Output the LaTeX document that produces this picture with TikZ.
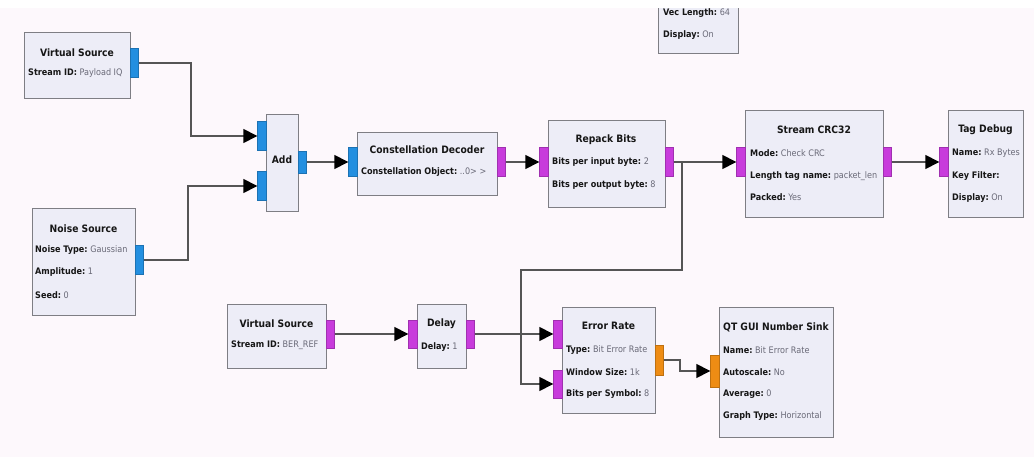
\documentclass[tikz,border=0pt]{standalone}
\usepackage{fontspec}
\setmainfont{DejaVu Sans Condensed}
\usetikzlibrary{arrows.meta}
\definecolor{bg}{HTML}{FDF8FC}
\definecolor{boxf}{HTML}{EDEDF7}
\definecolor{bord}{HTML}{7E7E84}
\definecolor{pblue}{HTML}{238FE0}
\definecolor{pmag}{HTML}{C83CDC}
\definecolor{porg}{HTML}{EE8C14}
\definecolor{linec}{HTML}{555555}
\definecolor{labc}{HTML}{161616}
\definecolor{valc}{HTML}{6A6A78}
\newcommand{\pv}[2]{\textbf{#1}\ \textcolor{valc}{#2}}
\begin{document}
\begin{tikzpicture}[x=1pt,y=-1pt,
  blk/.style={draw=bord, fill=boxf, line width=1.2pt, inner sep=0pt, anchor=north west},
  port/.style={inner sep=0pt, minimum width=8.5, minimum height=29, draw=#1!80!black, line width=0.4pt, fill=#1},
  ttl/.style={font=\fontsize{10.2}{12}\selectfont\bfseries, text=labc, inner sep=0pt},
  prm/.style={font=\fontsize{9}{11}\selectfont, text=labc, inner sep=0pt, anchor=west},
  conn/.style={draw=linec, line width=1.5pt, -{Triangle[length=14pt,width=14pt,color=black]}},
  wire/.style={draw=linec, line width=1.5pt}]
\useasboundingbox (0,0) rectangle (1034,457);
\fill[bg] (0,0) rectangle (1034,457);

% ---------- blocks ----------
\node[blk, minimum width=106, minimum height=66] (vs1) at (24,32) {};
\node[blk, minimum width=32, minimum height=97] (add) at (266,114) {};
\node[blk, minimum width=103, minimum height=107] (ns) at (32,208) {};
\node[blk, minimum width=140, minimum height=63] (cd) at (357,132) {};
\node[blk, minimum width=117, minimum height=87] (rb) at (548,120) {};
\node[blk, minimum width=138, minimum height=107] (crc) at (745,110) {};
\node[blk, minimum width=75, minimum height=107] (td) at (948,110) {};
\node[blk, minimum width=80, minimum height=75] (top) at (658,-22) {};
\node[blk, minimum width=99, minimum height=64] (vs2) at (227,304) {};
\node[blk, minimum width=49, minimum height=64] (dl) at (417,304) {};
\node[blk, minimum width=93, minimum height=106] (er) at (562,307) {};
\node[blk, minimum width=114, minimum height=130] (qt) at (719,307) {};

% ---------- texts ----------
\node[ttl] (vs1t) at (77,53) {Virtual Source};
\node[prm] (vs1a) at (28,73) {\pv{Stream ID:}{Payload IQ}};
\node[ttl] (addt) at (282,160) {Add};
\node[ttl] (nst) at (83.5,229) {Noise Source};
\node[prm] (nsa) at (35,250) {\pv{Noise Type:}{Gaussian}};
\node[prm] (nsb) at (35,272) {\pv{Amplitude:}{1}};
\node[prm] (nsc) at (35,295) {\pv{Seed:}{0}};
\node[ttl] (cdt) at (427,150) {Constellation Decoder};
\node[prm] (cda) at (361,172) {\pv{Constellation Object:}{..0> >}};
\node[ttl] (rbt) at (606,140) {Repack Bits};
\node[prm] (rba) at (552,162) {\pv{Bits per input byte:}{2}};
\node[prm] (rbb) at (552,185) {\pv{Bits per output byte:}{8}};
\node[ttl] (crct) at (814,130) {Stream CRC32};
\node[prm] (crca) at (750,153) {\pv{Mode:}{Check CRC}};
\node[prm] (crcb) at (750,176) {\pv{Length tag name:}{packet\_len}};
\node[prm] (crcc) at (750,197) {\pv{Packed:}{Yes}};
\node[ttl] (tdt) at (985.5,130) {Tag Debug};
\node[prm] (tda) at (952,153) {\pv{Name:}{Rx Bytes}};
\node[prm] (tdb) at (952,176) {\textbf{Key Filter:}};
\node[prm] (tdc) at (952,198) {\pv{Display:}{On}};
\node[prm] (topa) at (663,13) {\pv{Vec Length:}{64}};
\node[prm] (topb) at (663,35) {\pv{Display:}{On}};
\node[ttl] (vs2t) at (276.5,324) {Virtual Source};
\node[prm] (vs2a) at (231,345) {\pv{Stream ID:}{BER\_REF}};
\node[ttl] (dlt) at (441.5,324) {Delay};
\node[prm] (dla) at (421,347) {\pv{Delay:}{1}};
\node[ttl] (ert) at (608.5,326) {Error Rate};
\node[prm] (era) at (566,350) {\pv{Type:}{Bit Error Rate}};
\node[prm] (erb) at (566,372) {\pv{Window Size:}{1k}};
\node[prm] (erc) at (566,394) {\pv{Bits per Symbol:}{8}};
\node[ttl] (qtt) at (776,327) {QT GUI Number Sink};
\node[prm] (qta) at (723,350) {\pv{Name:}{Bit Error Rate}};
\node[prm] (qtb) at (723,372) {\pv{Autoscale:}{No}};
\node[prm] (qtc) at (723,394) {\pv{Average:}{0}};
\node[prm] (qtd) at (723,416) {\pv{Graph Type:}{Horizontal}};

% ---------- ports ----------
\node[port=pblue] (vs1o) at (134.25,63) {};
\node[port=pblue] (addi1) at (261.75,136) {};
\node[port=pblue] (addi2) at (261.75,186) {};
\node[port=pblue, minimum height=22] (addo) at (302.25,162) {};
\node[port=pblue] (nso) at (139.25,260) {};
\node[port=pblue] (cdi) at (352.75,162) {};
\node[port=pmag] (cdo) at (501.25,162) {};
\node[port=pmag] (rbi) at (543.75,162) {};
\node[port=pmag] (rbo) at (669.25,162) {};
\node[port=pmag] (crci) at (740.75,162) {};
\node[port=pmag] (crco) at (887.25,162) {};
\node[port=pmag] (tdi) at (943.75,162) {};
\node[port=pmag, minimum height=28] (vs2o) at (330.25,334) {};
\node[port=pmag, minimum height=28] (dli) at (412.75,334) {};
\node[port=pmag, minimum height=28] (dlo) at (470.25,334) {};
\node[port=pmag, minimum height=28] (eri1) at (557.75,334) {};
\node[port=pmag, minimum height=28] (eri2) at (557.75,384) {};
\node[port=porg, minimum height=30] (ero) at (659.25,360) {};
\node[port=porg, minimum height=32] (qti) at (714.75,371) {};

% ---------- connectors ----------
\coordinate (j1) at (191,63);
\coordinate (j2) at (188,260);
\coordinate (j3) at (682,270);
\coordinate (j4) at (521,270);
\coordinate (j5) at (680,360);
\draw[conn] (vs1o.east) -- (j1) |- (addi1.west);
\draw[conn] (nso.east) -- (j2) |- (addi2.west);
\draw[conn] (addo.east) -- (cdi.west);
\draw[conn] (cdo.east) -- (rbi.west);
\draw[conn] (rbo.east) -- (crci.west);
\draw[conn] (crco.east) -- (tdi.west);
\draw[conn] (rbo.east) -| (j3) -- (j4) |- (eri2.west);
\draw[conn] (vs2o.east) -- (dli.west);
\draw[conn] (dlo.east) -- (eri1.west);
\draw[conn] (ero.east) -- (j5) |- (qti.west);

% top white band
\fill[white] (0,0) rectangle (1034,8);
\end{tikzpicture}
\end{document}
